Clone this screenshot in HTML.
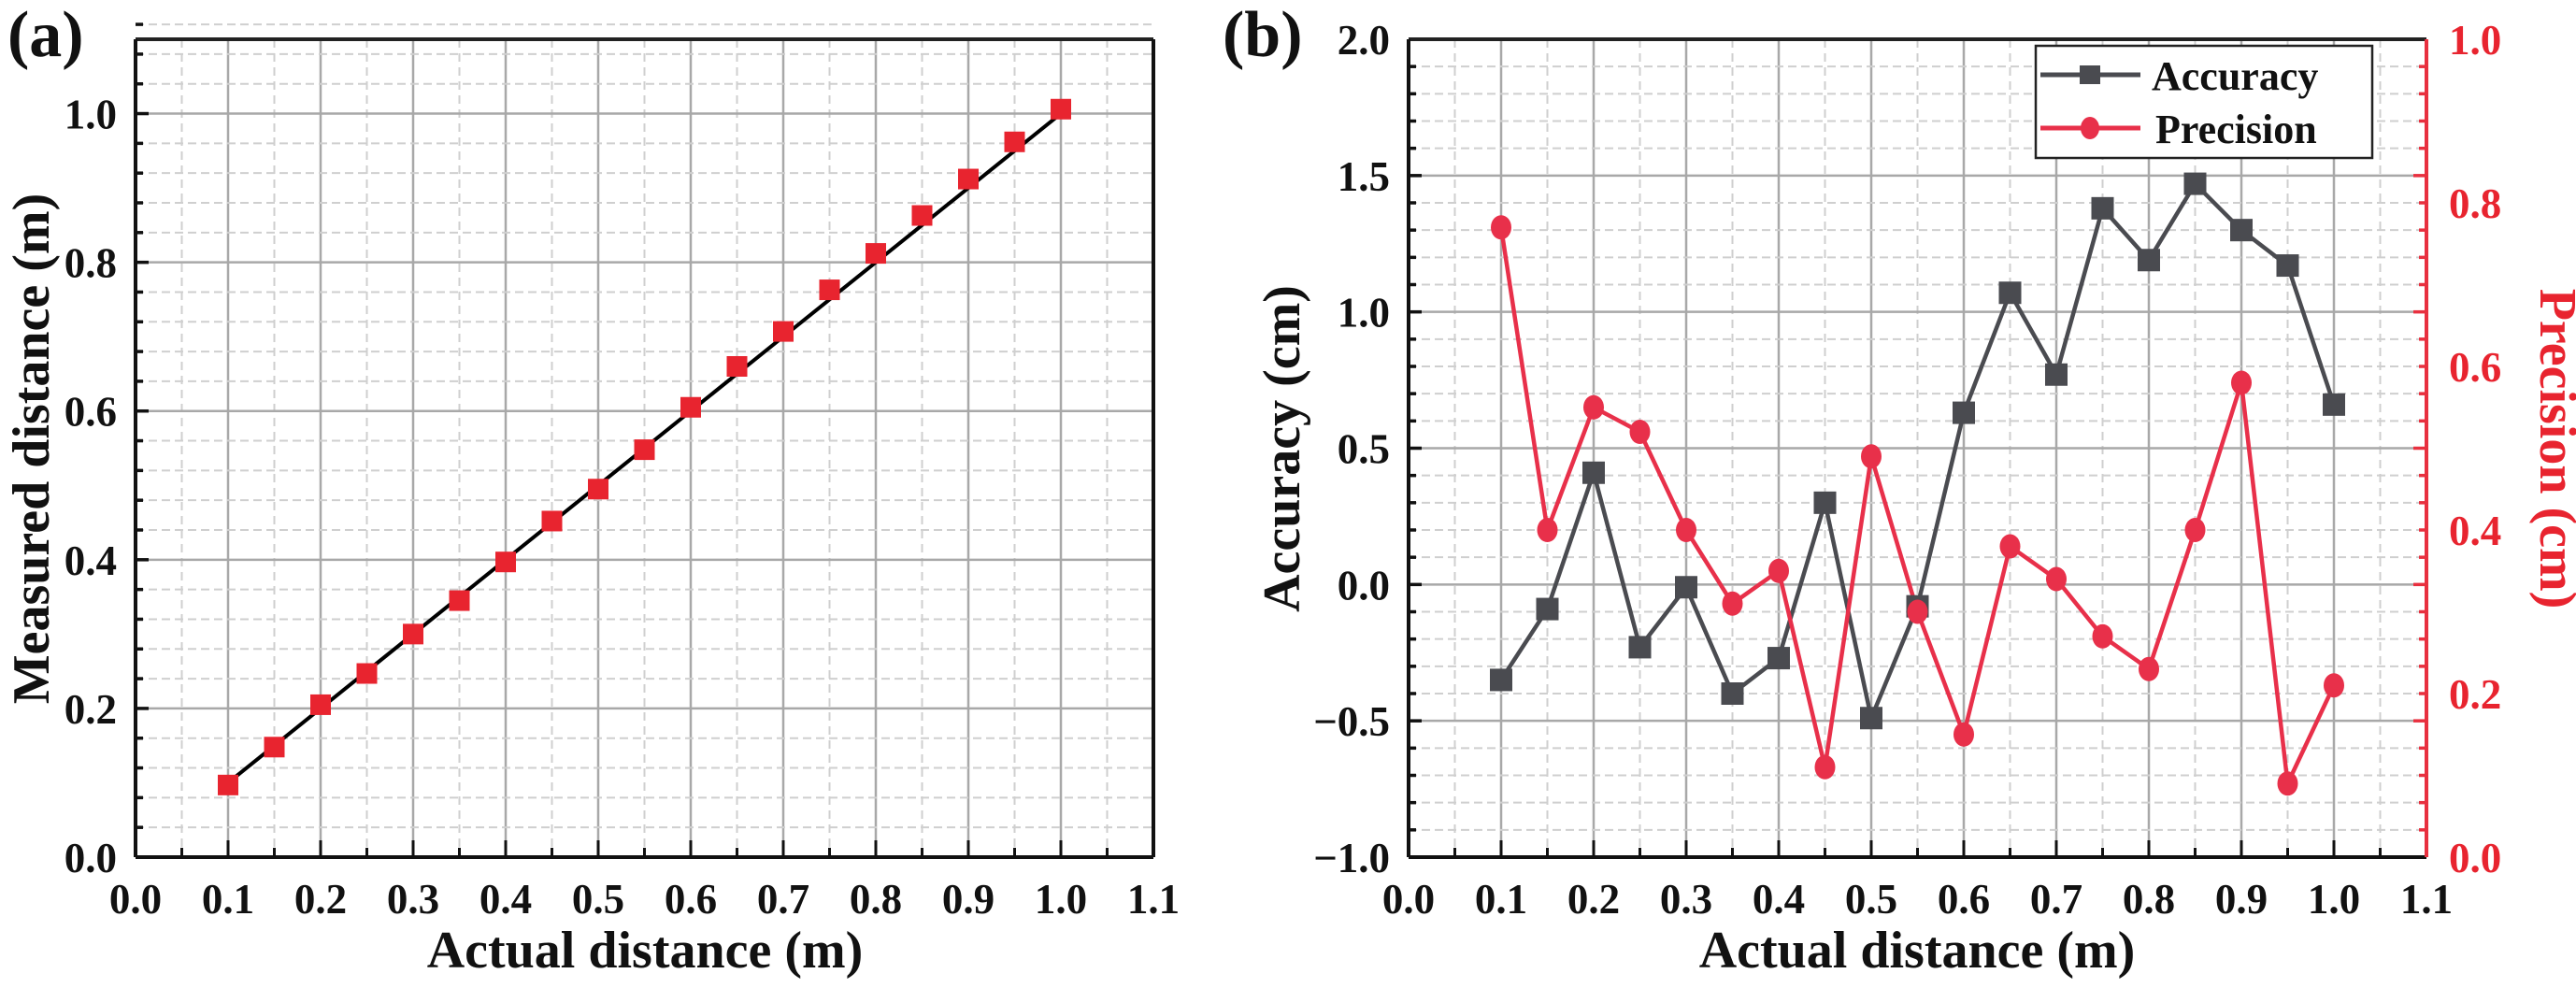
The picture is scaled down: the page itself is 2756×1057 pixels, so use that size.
<!DOCTYPE html>
<html><head><meta charset="utf-8"><style>
html,body{margin:0;padding:0;background:#fff;}
svg{display:block;}
svg text{font-family:"Liberation Serif","Times New Roman",serif;font-weight:bold;}
</style></head><body>
<svg id="chart" width="2756" height="1057" viewBox="0 0 2756 1057" xmlns="http://www.w3.org/2000/svg" font-family="Liberation Serif, serif" font-weight="bold"></svg>
<script>
const xs = [0.1,0.15,0.2,0.25,0.3,0.35,0.4,0.45,0.5,0.55,0.6,0.65,0.7,0.75,0.8,0.85,0.9,0.95,1.0];
const measured = [0.097,0.148,0.205,0.247,0.3,0.345,0.397,0.452,0.495,0.548,0.605,0.66,0.707,0.763,0.812,0.863,0.912,0.962,1.006];
const accuracy = [-0.35,-0.09,0.41,-0.23,-0.01,-0.4,-0.27,0.3,-0.49,-0.08,0.63,1.07,0.77,1.38,1.19,1.47,1.3,1.17,0.66];
const precision = [0.77,0.40,0.55,0.52,0.40,0.31,0.35,0.11,0.49,0.30,0.15,0.38,0.34,0.27,0.23,0.40,0.58,0.09,0.21];
const xTicks = ["0.0","0.1","0.2","0.3","0.4","0.5","0.6","0.7","0.8","0.9","1.0","1.1"];
const aYTicks = ["0.0","0.2","0.4","0.6","0.8","1.0"];
const bYTicks = ["-1.0","-0.5","0.0","0.5","1.0","1.5","2.0"];
const bY2Ticks = ["0.0","0.2","0.4","0.6","0.8","1.0"];

const svg = document.getElementById('chart');
const NS = 'http://www.w3.org/2000/svg';
function mk(tag, attrs, parent){const e=document.createElementNS(NS,tag);for(const k in attrs)e.setAttribute(k,attrs[k]);if(tag==='text'){e.setAttribute('font-family','Liberation Serif, serif');e.setAttribute('font-weight','bold');}(parent||svg).appendChild(e);return e;}

function panel(cfg){
  const g = mk('g',{});
  
  
  const X = v => cfg.x0 + (v - cfg.xmin)/(cfg.xmax-cfg.xmin)*(cfg.x1-cfg.x0);
  const Y = v => cfg.y1 - (v - cfg.ymin)/(cfg.ymax-cfg.ymin)*(cfg.y1-cfg.y0);
  for(let v=cfg.xmin; v<=cfg.xmax+1e-9; v+=0.05){
    const maj = Math.abs(Math.round(v*10)-v*10)<1e-6;
    const l = mk('line',{x1:X(v),x2:X(v),y1:cfg.y0,y2:cfg.y1,stroke:maj?'#a8a8a8':'#cfcfcf','stroke-width':maj?2.5:2,'stroke-dasharray':maj?'':'9,6'},g);
    
    
    mk('line',{x1:X(v),x2:X(v),y1:cfg.y1,y2:cfg.y1-(maj?18:10),stroke:'#111','stroke-width':3},g);
  }
  const nMinor = Math.round((cfg.ymax-cfg.ymin)/cfg.yminor);
  for(let i=0;i<=nMinor;i++){
    const v = cfg.ymin + i*cfg.yminor;
    const rel = (v-cfg.ymin)/cfg.ymajor;
    const maj = Math.abs(rel-Math.round(rel))<1e-6;
    const l = mk('line',{x1:cfg.x0,x2:cfg.x1,y1:Y(v),y2:Y(v),stroke:maj?'#a8a8a8':'#cfcfcf','stroke-width':maj?2.5:2,'stroke-dasharray':maj?'':'9,5'},g);
    
    
    mk('line',{x1:cfg.x0,x2:cfg.x0+(maj?14:8),y1:Y(v),y2:Y(v),stroke:'#111','stroke-width':3.5},g);
    if(cfg.y2){ mk('line',{x1:cfg.x1,x2:cfg.x1-(maj?14:8),y1:Y(v),y2:Y(v),stroke:'#e8303f','stroke-width':3.5},g); }
  }
  mk('line',{x1:cfg.x0,x2:cfg.x1,y1:cfg.y0,y2:cfg.y0,stroke:'#222','stroke-width':4},g);
  mk('line',{x1:cfg.x0,x2:cfg.x1,y1:cfg.y1,y2:cfg.y1,stroke:'#111','stroke-width':4},g);
  mk('line',{x1:cfg.x0,x2:cfg.x0,y1:cfg.y0,y2:cfg.y1,stroke:'#111','stroke-width':4},g);
  mk('line',{x1:cfg.x1,x2:cfg.x1,y1:cfg.y0,y2:cfg.y1,stroke:cfg.y2?'#e8303f':'#111','stroke-width':4},g);
  xTicks.forEach(t=>{
    const e = mk('text',{x:X(parseFloat(t)),y:cfg.y1+60,'text-anchor':'middle','font-size':45,fill:'#111'},g);
    e.textContent=t;
    
    
  });
  cfg.yTicks.forEach(t=>{
    const e = mk('text',{x:cfg.x0-20,y:Y(parseFloat(t))+16,'text-anchor':'end','font-size':45,fill:'#111'},g);
    e.textContent=t.replace('-','\u2212');
    
    
  });
  return {g,X,Y};
}

const A = panel({name:'panel-a',x0:145,x1:1234,y0:42,y1:917,xmin:0,xmax:1.1,ymin:0,ymax:1.1,ymajor:0.2,yminor:0.04,yTicks:aYTicks});
const fitLine = mk('line',{x1:A.X(xs[0]),y1:A.Y(xs[0]),x2:A.X(xs[xs.length-1]),y2:A.Y(xs[xs.length-1]),stroke:'#000','stroke-width':4},A.g);


xs.forEach((x,i)=>{
  const r = mk('rect',{x:A.X(x)-11,y:A.Y(measured[i])-11,width:22,height:22,fill:'#e8242f'},A.g);
  
  
});
let t;
t = mk('text',{x:690,y:1035,'text-anchor':'middle','font-size':56,fill:'#111'}); t.textContent='Actual distance (m)';
 
t = mk('text',{x:0,y:0,'text-anchor':'middle','font-size':56,fill:'#111',transform:'translate(52,480) rotate(-90)'}); t.textContent='Measured distance (m)';
 
t = mk('text',{x:8,y:60,'font-size':70,fill:'#111'}); t.textContent='(a)';
 

const B = panel({name:'panel-b',x0:1507,x1:2596,y0:42,y1:917,xmin:0,xmax:1.1,ymin:-1,ymax:2,ymajor:0.5,yminor:0.1,yTicks:bYTicks,y2:true});
const Y2 = v => 917 - v/1.0*(917-42);
bY2Ticks.forEach(tk=>{
  const e = mk('text',{x:2620,y:Y2(parseFloat(tk))+16,'font-size':45,fill:'#e8242f'},B.g);
  e.textContent=tk;
  
  
});
const accPath = mk('polyline',{points:xs.map((x,i)=>B.X(x)+','+B.Y(accuracy[i])).join(' '),fill:'none',stroke:'#4a4b50','stroke-width':4.5},B.g);
 
const prePath = mk('polyline',{points:xs.map((x,i)=>B.X(x)+','+Y2(precision[i])).join(' '),fill:'none',stroke:'#e8304a','stroke-width':4.5},B.g);
 
xs.forEach((x,i)=>{
  const r = mk('rect',{x:B.X(x)-12,y:B.Y(accuracy[i])-12,width:24,height:24,fill:'#4a4b50'},B.g);
   
  const c = mk('ellipse',{cx:B.X(x),cy:Y2(precision[i]),rx:11,ry:13,fill:'#e8304a'},B.g);
   
});
const lg = mk('g',{});
 
mk('rect',{x:2178,y:49,width:360,height:120,fill:'#fff',stroke:'#222','stroke-width':2.5},lg);
mk('line',{x1:2183,x2:2290,y1:80,y2:80,stroke:'#4a4b50','stroke-width':5},lg);
mk('rect',{x:2225,y:70,width:22,height:20,fill:'#4a4b50'},lg);
mk('line',{x1:2183,x2:2290,y1:137,y2:137,stroke:'#e8304a','stroke-width':5},lg);
mk('ellipse',{cx:2236,cy:137,rx:10,ry:12,fill:'#e8304a'},lg);
t = mk('text',{x:2302,y:96,'font-size':44,fill:'#111'},lg); t.textContent='Accuracy';
 
t = mk('text',{x:2306,y:153,'font-size':44,fill:'#111'},lg); t.textContent='Precision';
 

t = mk('text',{x:2051,y:1035,'text-anchor':'middle','font-size':56,fill:'#111'}); t.textContent='Actual distance (m)';
 
t = mk('text',{x:0,y:0,'text-anchor':'middle','font-size':56,fill:'#111',transform:'translate(1390,480) rotate(-90)'}); t.textContent='Accuracy (cm)';
 
t = mk('text',{x:0,y:0,'text-anchor':'middle','font-size':56,fill:'#e8242f',transform:'translate(2718,480) rotate(90)'}); t.textContent='Precision (cm)';
 
t = mk('text',{x:1308,y:60,'font-size':70,fill:'#111'}); t.textContent='(b)';
 
</script>
</body></html>
